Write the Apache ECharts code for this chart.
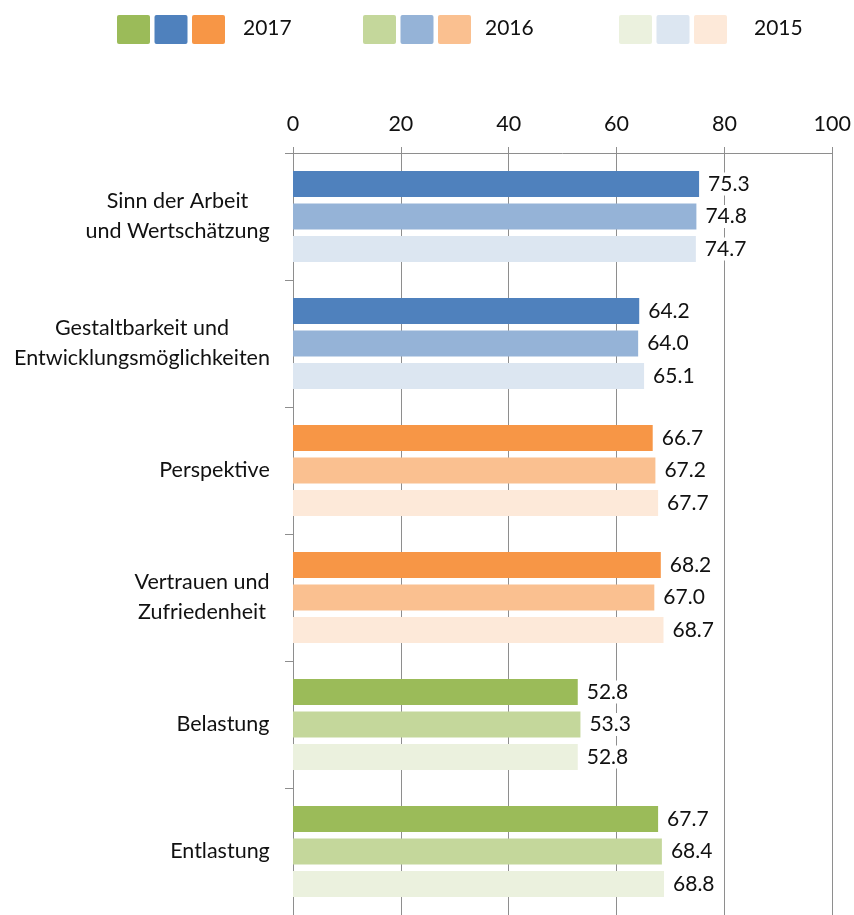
<!DOCTYPE html>
<html>
<head>
<meta charset="utf-8">
<script src="https://cdn.jsdelivr.net/npm/echarts@6/dist/echarts.min.js"></script>
<style>
html,body{margin:0;padding:0;background:#fff;}
#chart{width:854px;height:915px;}
</style>
</head>
<body>
<div id="chart"></div>
<script>
// ---- data ----
var categories = [
  'Sinn der Arbeit\nund Wertschätzung',
  'Gestaltbarkeit und\nEntwicklungsmöglichkeiten',
  'Perspektive',
  'Vertrauen und\nZufriedenheit',
  'Belastung',
  'Entlastung'
];
var years = ['2017', '2016', '2015'];
var values2017 = [75.3, 64.2, 66.7, 68.2, 52.8, 67.7];
var values2016 = [74.8, 64.0, 67.2, 67.0, 53.3, 68.4];
var values2015 = [74.7, 65.1, 67.7, 68.7, 52.8, 68.8];
var categoryGroup = ['blue', 'blue', 'orange', 'orange', 'green', 'green'];
var xTicks = [0, 20, 40, 60, 80, 100];

// ---- styles ----
var palette = {
  green:  ['#9BBB59', '#C4D79B', '#EBF1DE'],
  blue:   ['#4F81BD', '#95B3D7', '#DCE6F1'],
  orange: ['#F79646', '#FAC090', '#FDE9D9']
};
var FONT = 'Lato';
var FS = 21.5;
var TEXT = '#111';
var GRID = '#8e8e8e';

var seriesValues = [values2017, values2016, values2015];

var series = seriesValues.map(function (vals, si) {
  return {
    name: years[si],
    type: 'bar',
    barWidth: 26,
    barGap: '25%',
    data: vals.map(function (v, ci) {
      return { value: v, itemStyle: { color: palette[categoryGroup[ci]][si] } };
    }),
    label: {
      show: true,
      position: 'right',
      distance: 5,
      backgroundColor: '#fff',
      padding: [1, 4, 1, 4],
      color: TEXT,
      fontFamily: FONT,
      fontSize: 21,
      formatter: function (p) { return p.value.toFixed(1); }
    }
  };
});

// measure widest line of each category label so lines are centred in a right-aligned block
var ctx = document.createElement('canvas').getContext('2d');
ctx.font = FS + 'px ' + FONT;
var rich = { n: { fontFamily: FONT, fontSize: FS, color: TEXT, lineHeight: 30 } };
categories.forEach(function (c, i) {
  var w = 0;
  c.split('\n').forEach(function (l) { w = Math.max(w, ctx.measureText(l).width); });
  rich['w' + i] = { width: Math.ceil(w), align: 'center', fontFamily: FONT, fontSize: FS, color: TEXT, lineHeight: 30 };
});

// legend graphic built from years and palette
var legendGroups = [
  { x: 117, textX: 243 },
  { x: 363, textX: 485 },
  { x: 619, textX: 754 }
];
var graphics = [];
legendGroups.forEach(function (g, yi) {
  ['green', 'blue', 'orange'].forEach(function (c, k) {
    graphics.push({
      type: 'rect',
      left: g.x + k * 37.5,
      top: 15,
      shape: { width: 33, height: 29, r: 2 },
      style: { fill: palette[c][yi] }
    });
  });
  graphics.push({
    type: 'text',
    left: g.textX,
    top: 18,
    style: { text: years[yi], font: '21px ' + FONT, fill: TEXT }
  });
});

var chart = echarts.init(document.getElementById('chart'));
chart.setOption({
  animation: false,
  backgroundColor: '#fff',
  grid: { left: 293, right: 20, top: 153, height: 769, containLabel: false },
  xAxis: {
    type: 'value',
    position: 'top',
    min: xTicks[0],
    max: xTicks[xTicks.length - 1],
    interval: 20,
    axisLine: { show: true, lineStyle: { color: GRID, width: 1 } },
    axisTick: { show: true, length: 6, lineStyle: { color: GRID } },
    splitLine: { show: true, lineStyle: { color: GRID, width: 1 } },
    axisLabel: { margin: 18, color: TEXT, fontFamily: FONT, fontSize: FS }
  },
  yAxis: {
    type: 'category',
    inverse: true,
    data: categories,
    axisLine: { show: true, lineStyle: { color: GRID, width: 1 } },
    axisTick: { show: true, length: 8, lineStyle: { color: GRID } },
    splitLine: { show: false },
    axisLabel: {
      margin: 23,
      align: 'right',
      color: TEXT,
      fontFamily: FONT,
      fontSize: FS,
      lineHeight: 30,
      formatter: function (value, idx) {
        return value.split('\n').map(function (l) { return '{w' + idx + '|' + l + '}'; }).join('\n');
      },
      rich: rich
    }
  },
  graphic: graphics,
  series: series
});
</script>
</body>
</html>
